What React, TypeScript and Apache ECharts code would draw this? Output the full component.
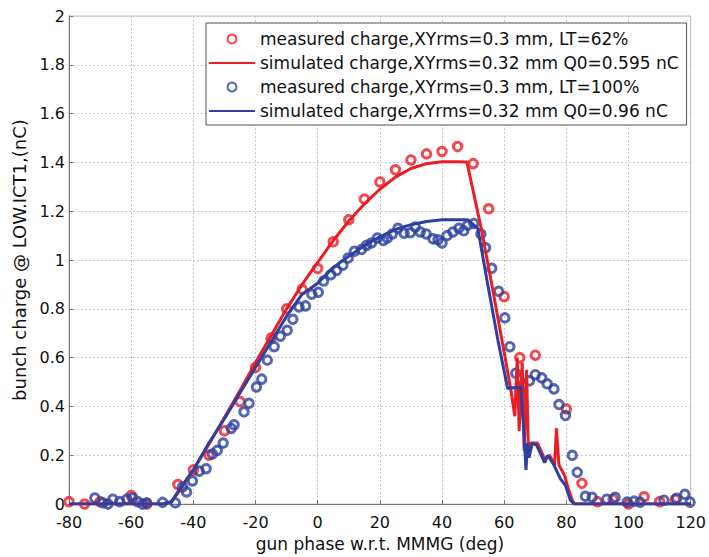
import React, { useEffect, useRef } from "react";
import * as echarts from "echarts";

const RED = "#ec1c24";
const BLUE = "#2b40a0";

const legendLabels = [
  "measured charge,XYrms=0.3 mm, LT=62%",
  "simulated charge,XYrms=0.32 mm Q0=0.595 nC",
  "measured charge,XYrms=0.3 mm, LT=100%",
  "simulated charge,XYrms=0.32 mm Q0=0.96 nC",
];

const redMeasured: [number, number][] = [
  [-80, 0.01], [-75, 0.0], [-70, 0.01], [-60, 0.035], [-55, 0.0], [-45, 0.08],
  [-40, 0.14], [-35, 0.2], [-30, 0.3], [-25, 0.42], [-20, 0.56], [-15, 0.68],
  [-10, 0.8], [-5, 0.88], [0, 0.965], [5, 1.075], [10, 1.165], [15, 1.25],
  [20, 1.32], [25, 1.37], [30, 1.41], [35, 1.435], [40, 1.445], [45, 1.465],
  [50, 1.395], [55, 1.21], [60, 0.85], [65, 0.6], [70, 0.61], [80, 0.39],
  [85, 0.085], [90, 0.01], [95, 0.02], [100, 0.0], [105, 0.03], [110, 0.01], [115, 0.02],
];

const redSimulated: [number, number][] = [
  [-80, 0], [-50, 0], [-47, 0.01], [-45, 0.045], [-40, 0.14], [-35, 0.245],
  [-30, 0.355], [-25, 0.465], [-20, 0.58], [-15, 0.69], [-10, 0.8], [-5, 0.9],
  [0, 0.99], [5, 1.08], [10, 1.16], [15, 1.23], [20, 1.29], [25, 1.34],
  [30, 1.375], [35, 1.395], [40, 1.403], [45, 1.403], [48, 1.402], [52.6, 1.13],
  [56, 0.9], [60.3, 0.6], [62, 0.48], [63.4, 0.36], [64.2, 0.6], [64.8, 0.3],
  [65.8, 0.58], [66.4, 0.22], [67.2, 0.55], [67.8, 0.2], [68.5, 0.25], [70.7, 0.25],
  [73, 0.185], [74.6, 0.2], [76.2, 0.16], [76.8, 0.31], [77.6, 0.16], [79.4, 0.118],
  [80.6, 0.064], [81.9, 0.016], [82.6, 0], [120, 0],
];

const blueMeasured: [number, number][] = [
  [-71.7, 0.025], [-69.1, 0.005], [-67.5, 0.0], [-65.9, 0.02], [-63.7, 0.01],
  [-61.4, 0.02], [-59.5, 0.025], [-57.9, 0.01], [-56.3, 0.0], [-55, 0.005],
  [-49.9, 0.007], [-45.8, 0.005], [-43.5, 0.07], [-42.2, 0.05], [-40.3, 0.095],
  [-38.1, 0.135], [-35.9, 0.145], [-33.9, 0.205], [-32.3, 0.22], [-30.4, 0.25],
  [-27.8, 0.31], [-26.9, 0.325], [-23.7, 0.378], [-22.1, 0.413], [-19.7, 0.48],
  [-18.0, 0.512], [-16.2, 0.59], [-14.0, 0.645], [-12.0, 0.688], [-9.8, 0.712],
  [-8.0, 0.757], [-6.0, 0.808], [-3.9, 0.812], [-1.9, 0.86], [0.2, 0.868],
  [1.9, 0.914], [4.2, 0.94], [6.1, 0.957], [8.1, 0.979], [9.8, 1.008],
  [11.8, 1.036], [14.1, 1.043], [15.7, 1.06], [17.3, 1.07], [19.2, 1.09],
  [21.1, 1.08], [22.4, 1.09], [24.0, 1.107], [25.8, 1.13], [27.8, 1.11],
  [29.8, 1.112], [31.4, 1.135], [33.0, 1.115], [34.9, 1.107], [37.1, 1.087],
  [38.7, 1.083], [40.0, 1.07], [41.6, 1.1], [43.5, 1.115], [45.4, 1.13],
  [47.0, 1.12], [48.2, 1.142], [50.2, 1.15], [52.5, 1.107], [54.0, 1.05],
  [56.0, 0.966], [58.2, 0.872], [60.2, 0.763], [61.8, 0.645], [63.7, 0.536],
  [65.9, 0.487], [68.1, 0.505], [70.0, 0.53], [72.1, 0.517], [73.8, 0.493],
  [76.0, 0.472], [77.6, 0.408], [79.7, 0.363], [81.9, 0.2], [83.5, 0.13],
  [86.1, 0.032], [88.3, 0.028], [93.0, 0.02], [95.7, 0.028], [99.5, 0.008],
  [101.8, 0.012], [103.7, 0.008], [111.4, 0.016], [115.5, 0.024], [118.1, 0.04],
  [119.8, 0.008],
];

const blueSimulated: [number, number][] = [
  [-80, 0], [-50, 0], [-47, 0.01], [-45, 0.05], [-40, 0.14], [-35, 0.25],
  [-30, 0.35], [-25, 0.455], [-20, 0.56], [-15, 0.665], [-10, 0.77], [-5, 0.86],
  [0, 0.905], [5, 0.97], [10, 1.015], [15, 1.06], [20, 1.095], [25, 1.125],
  [30, 1.145], [35, 1.158], [40, 1.165], [48.3, 1.165], [51.5, 1.13], [54.7, 0.9],
  [58, 0.67], [61.1, 0.474], [65.3, 0.48], [66.3, 0.3], [67, 0.14], [67.5, 0.25],
  [68, 0.19], [69, 0.25], [70.5, 0.24], [73, 0.17], [74, 0.2], [76, 0.16],
  [78, 0.105], [79.7, 0.077], [81.3, 0.016], [82.6, 0], [120, 0],
];

const FONT = "DejaVu Sans";

export default function App() {
  const ref = useRef<HTMLDivElement>(null);
  useEffect(() => {
    if (!ref.current) return;
    const chart = echarts.init(ref.current, null, { renderer: "svg" });
    const scatterStyle = (c: string) => ({
      color: "transparent",
      borderColor: c,
      borderWidth: 3,
    });
    const hiddenSymbol = { opacity: 0 };
    chart.setOption({
      animation: false,
      backgroundColor: "#fff",
      grid: {
        left: 69,
        right: 15,
        top: 16,
        bottom: 48,
        show: true,
        borderColor: "#bbb",
        borderWidth: 1,
      },
      legend: {
        orient: "vertical",
        left: 206,
        top: 23,
        padding: [7, 8, 5, 2],
        itemGap: 6,
        itemWidth: 46,
        itemHeight: 9,
        borderColor: "#555",
        borderWidth: 1,
        backgroundColor: "#fff",
        data: [
          { name: legendLabels[0] },
          { name: legendLabels[1], itemStyle: hiddenSymbol },
          { name: legendLabels[2] },
          { name: legendLabels[3], itemStyle: hiddenSymbol },
        ],
        textStyle: { fontFamily: FONT, fontSize: 17, color: "#111", lineHeight: 18 },
      },
      xAxis: {
        type: "value",
        min: -80,
        max: 120,
        interval: 20,
        name: "gun phase w.r.t. MMMG (deg)",
        nameLocation: "middle",
        nameGap: 29,
        nameTextStyle: { fontFamily: FONT, fontSize: 17, color: "#111" },
        axisLine: { show: true, onZero: false, lineStyle: { color: "#777", width: 1 } },
        axisTick: { show: true, inside: true, length: 4, lineStyle: { color: "#777" } },
        axisLabel: { fontFamily: FONT, fontSize: 16, color: "#111", margin: 12, lineHeight: 12 },
        splitLine: { show: true, lineStyle: { color: "#c8c8c8", type: [2, 2], width: 1 } },
      },
      yAxis: {
        type: "value",
        min: 0,
        max: 2,
        interval: 0.2,
        name: "bunch charge @ LOW.ICT1,(nC)",
        nameLocation: "middle",
        nameGap: 40,
        nameTextStyle: { fontFamily: FONT, fontSize: 18, color: "#111" },
        axisLine: { show: true, onZero: false, lineStyle: { color: "#777", width: 1 } },
        axisTick: { show: true, inside: true, length: 4, lineStyle: { color: "#777" } },
        axisLabel: { fontFamily: FONT, fontSize: 16, color: "#111", margin: 4, lineHeight: 12 },
        splitLine: { show: true, lineStyle: { color: "#c8c8c8", type: [2, 2], width: 1 } },
      },
      series: [
        {
          name: legendLabels[0],
          type: "scatter",
          data: redMeasured,
          symbol: "circle",
          symbolSize: 8.5,
          symbolKeepAspect: true,
          itemStyle: scatterStyle(RED),
        },
        {
          name: legendLabels[1],
          type: "line",
          data: redSimulated,
          symbol: "none",
          lineStyle: { color: RED, width: 3 },
          itemStyle: { color: RED },
        },
        {
          name: legendLabels[2],
          type: "scatter",
          data: blueMeasured,
          symbol: "circle",
          symbolSize: 8.5,
          symbolKeepAspect: true,
          itemStyle: scatterStyle(BLUE),
        },
        {
          name: legendLabels[3],
          type: "line",
          data: blueSimulated,
          symbol: "none",
          lineStyle: { color: BLUE, width: 3 },
          itemStyle: { color: BLUE },
        },
      ],
    });
    return () => chart.dispose();
  }, []);
  return <div ref={ref} style={{ width: 709, height: 557, position: "absolute", left: 0, top: 0 }} />;
}
